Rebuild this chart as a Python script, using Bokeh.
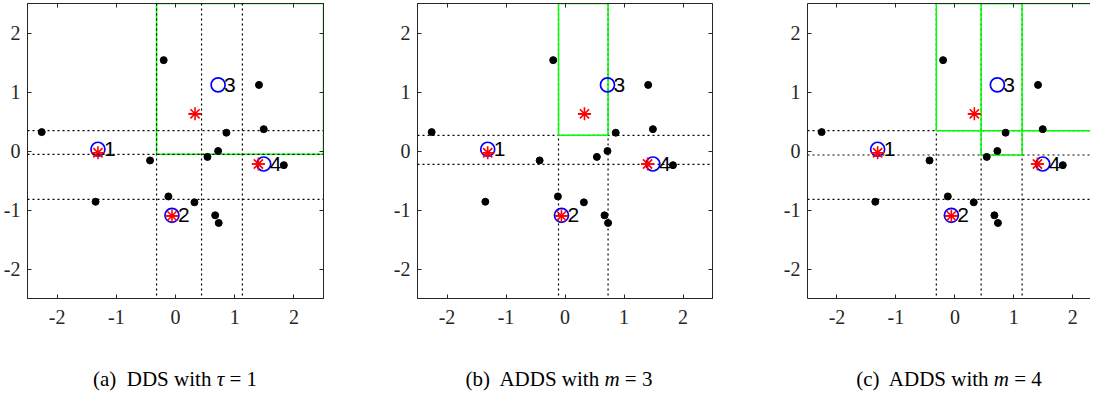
from bokeh.plotting import figure
from bokeh.models import Span, LinearAxis, FixedTicker, Div, Range1d, ColumnDataSource, CustomJSTickFormatter
from bokeh.layouts import row, column
from bokeh.core.properties import value
from bokeh.embed import file_html
from bokeh.resources import INLINE

# ---- data ----
pts_x = [-0.20, 1.41, -2.26, 0.86, 1.49, 0.72, 0.54, -0.43, 1.83, -1.35, -0.12, 0.32, 0.67, 0.73]
pts_y = [1.54, 1.12, 0.32, 0.31, 0.37, 0.00, -0.10, -0.16, -0.24, -0.86, -0.77, -0.87, -1.09, -1.22]

center_x = [-1.31, -0.06, 0.72, 1.49]
center_y = [0.03, -1.09, 1.12, -0.22]
center_lbl = ["1", "2", "3", "4"]

star_x = [-1.31, -0.06, 0.33, 1.40]
star_y = [-0.03, -1.10, 0.63, -0.22]

ticks = [-2, -1, 0, 1, 2]

# panel (a) DDS tau=1
a_hlines = [0.345, -0.057, -0.82]
a_vlines = [-0.32, 0.44, 1.13]
a_boxes = {"left": [-0.32], "right": [2.5], "bottom": [-0.057], "top": [2.5]}
# panel (b) ADDS m=3
b_hlines = [0.266, -0.226]
b_vlines = [-0.11, 0.73]
b_boxes = {"left": [-0.11], "right": [0.73], "bottom": [0.266], "top": [2.5]}
# panel (c) ADDS m=4
c_hlines = [0.345, -0.068, -0.82]
c_vlines = [-0.315, 0.445, 1.14]
c_boxes = {"left": [-0.315, 0.445], "right": [2.5, 1.14], "bottom": [0.345, -0.068], "top": [2.5, 2.5]}

captions = ["(a)&nbsp; DDS with <i>&tau;</i> = 1",
            "(b)&nbsp; ADDS with <i>m</i> = 3",
            "(c)&nbsp; ADDS with <i>m</i> = 4"]

AX = "#262626"
SERIF = "'Liberation Serif', 'Times New Roman', serif"
FRAME_H = 295
H = 3 + FRAME_H + 42


def style_axis(ax, labels=True, standoff=6):
    ax.ticker = FixedTicker(ticks=ticks, minor_ticks=[])
    ax.major_tick_in = 4
    ax.major_tick_out = 0
    ax.minor_tick_in = 0
    ax.minor_tick_out = 0
    ax.axis_line_color = AX
    ax.axis_line_width = 1
    ax.major_tick_line_color = AX
    if labels:
        ax.formatter = CustomJSTickFormatter(code="return tick.toString()")
        ax.major_label_text_font = SERIF
        ax.major_label_text_font_size = "20px"
        ax.major_label_text_color = AX
        ax.major_label_standoff = standoff
    else:
        ax.formatter = CustomJSTickFormatter(code="return ''")
        ax.major_label_standoff = 0


def make_panel(hl, vl, boxes, width, left, right, xmax, spans_over, right_axis):
    p = figure(width=width, height=H, x_range=Range1d(-2.5, xmax), y_range=Range1d(-2.5, 2.5),
               output_backend="svg", toolbar_location=None,
               min_border_left=left, min_border_right=right, min_border_top=3, min_border_bottom=42)
    p.xgrid.visible = False
    p.ygrid.visible = False
    p.background_fill_color = "white"
    p.border_fill_color = "white"
    p.outline_line_color = AX if right_axis else None
    style_axis(p.xaxis[0], True, 11)
    style_axis(p.yaxis[0], True, 7)
    top_ax = LinearAxis()
    style_axis(top_ax, False)
    p.add_layout(top_ax, "above")
    if right_axis:
        r_ax = LinearAxis()
        style_axis(r_ax, False)
        p.add_layout(r_ax, "right")

    lvl = "annotation" if spans_over else "underlay"
    for y in hl:
        p.add_layout(Span(location=y, dimension="width", line_color="black",
                          line_dash="2 3", line_width=1.2, level=lvl))
    for x in vl:
        p.add_layout(Span(location=x, dimension="height", line_color="black",
                          line_dash="2 3", line_width=1.2, level=lvl))

    p.quad(left=boxes["left"], right=boxes["right"], bottom=boxes["bottom"], top=boxes["top"],
           fill_color=None, line_color="#00ff00", line_width=1.5)

    p.scatter(pts_x, pts_y, marker="circle", size=7, fill_color="black", line_color="black")
    src_c = ColumnDataSource(dict(x=center_x, y=center_y, t=center_lbl))
    p.scatter("x", "y", source=src_c, marker="circle", size=14, fill_color=None,
              line_color="#0000ff", line_width=1.7)
    p.scatter(star_x, star_y, marker="asterisk", size=13, line_color="#ff0000", line_width=1.6)
    p.scatter(star_x, star_y, marker="dash", size=13, line_color="#ff0000", line_width=1.6)
    p.text("x", "y", text="t", source=src_c, x_offset=6, text_baseline="middle", text_align="left",
           text_font=value("'Liberation Sans', Arial, sans-serif"), text_font_size="21px",
           text_color="black")
    return p


p1 = make_panel(a_hlines, a_vlines, a_boxes, 390, 27, 67, 2.5, True, True)
p2 = make_panel(b_hlines, b_vlines, b_boxes, 390, 26, 68, 2.5, False, True)
p3 = make_panel(c_hlines, c_vlines, c_boxes, 310, 26, 0, 2.3, False, False)

centers = [175, 559, 949]
spans = "".join(
    f'<span style="position:absolute;left:{c}px;top:27px;transform:translateX(-50%);'
    f'white-space:nowrap;line-height:24px;">{t}</span>'
    for c, t in zip(centers, captions))
cap = Div(text=f'<div style="position:relative;width:1098px;height:50px;'
               f'font-family:{SERIF};font-size:21px;color:#000;">{spans}</div>',
          width=1098, height=50, margin=(0, 0, 0, 0))

top = row(p1, p2, p3)
layout = column(top, cap)

open("out.html", "w").write(file_html(layout, INLINE))
